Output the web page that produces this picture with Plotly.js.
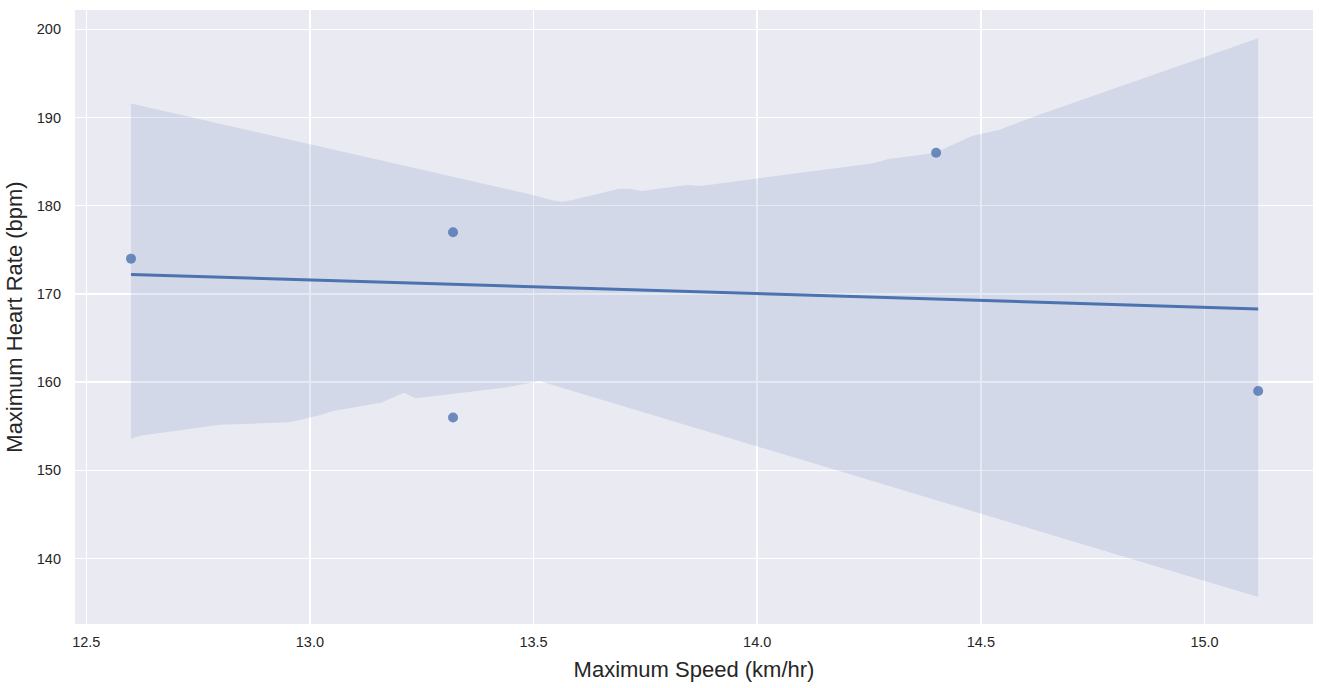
<!DOCTYPE html>
<html>
<head>
<meta charset="utf-8">
<script src="https://cdn.plot.ly/plotly-3.0.1.min.js"></script>
<style>html,body{margin:0;padding:0;background:#fff;}#chart{width:1324px;height:688px;}</style>
</head>
<body>
<div id="chart"></div>
<script>
// Observations
const speedKmh = [12.6, 13.32, 13.32, 14.4, 15.12];
const heartRateBpm = [174, 177, 156, 186, 159];

// Fitted regression line
const fitX = [12.6, 15.12];
const fitY = [172.2, 168.3];

// Confidence band boundaries
const bandUpperX = [12.6, 13.0, 13.5, 13.545, 13.565, 13.587, 13.691, 13.717, 13.743, 13.844, 13.874, 13.996, 14.257, 14.294, 14.397, 14.48, 14.54, 14.629, 15.12];
const bandUpperY = [191.6, 187.0, 181.2, 180.6, 180.45, 180.64, 181.93, 181.9, 181.66, 182.34, 182.23, 183.06, 184.8, 185.29, 185.97, 187.9, 188.58, 190.28, 199.0];
const bandLowerX = [12.6, 12.624, 12.798, 12.955, 13.022, 13.051, 13.159, 13.21, 13.236, 13.289, 13.312, 13.438, 13.498, 13.513, 15.12];
const bandLowerY = [153.57, 153.95, 155.16, 155.46, 156.25, 156.74, 157.65, 158.79, 158.18, 158.52, 158.64, 159.4, 159.96, 160.14, 135.65];

const xTickVals = [12.5, 13.0, 13.5, 14.0, 14.5, 15.0];
const xTickText = ['12.5', '13.0', '13.5', '14.0', '14.5', '15.0'];
const yTickVals = [140, 150, 160, 170, 180, 190, 200];
const yTickText = ['140', '150', '160', '170', '180', '190', '200'];

const blue = '#4c72b0';

const polyX = bandUpperX.concat(bandLowerX.slice().reverse());
const polyY = bandUpperY.concat(bandLowerY.slice().reverse());

const traces = [
  {
    x: polyX, y: polyY, type: 'scatter', mode: 'lines', fill: 'toself',
    fillcolor: 'rgba(76,114,176,0.15)', line: {width: 0, color: 'rgba(0,0,0,0)'},
    hoverinfo: 'skip'
  },
  {
    x: speedKmh, y: heartRateBpm, type: 'scatter', mode: 'markers',
    marker: {color: blue, size: 10, opacity: 0.8, line: {width: 0}},
    hoverinfo: 'x+y'
  },
  {
    x: fitX, y: fitY, type: 'scatter', mode: 'lines',
    line: {color: blue, width: 3}
  }
];

const font = 'Liberation Sans, Arial, sans-serif';
const layout = {
  width: 1324, height: 688,
  margin: {l: 75, r: 11, t: 10, b: 64, pad: 0},
  paper_bgcolor: '#ffffff',
  plot_bgcolor: '#eaeaf2',
  showlegend: false,
  font: {family: font, color: '#262626', size: 14},
  xaxis: {
    range: [12.4748, 15.2426],
    tickmode: 'array', tickvals: xTickVals, ticktext: xTickText,
    showgrid: true, gridcolor: '#ffffff', gridwidth: 1.5,
    zeroline: false, showline: false, ticks: '',
    ticklabelstandoff: 7,
    tickfont: {family: font, size: 14.5, color: '#262626'},
    title: {text: 'Maximum Speed (km/hr)', font: {family: font, size: 22, color: '#262626'}, standoff: 13},
    automargin: false
  },
  yaxis: {
    range: [132.58, 202.19],
    tickmode: 'array', tickvals: yTickVals, ticktext: yTickText,
    showgrid: true, gridcolor: '#ffffff', gridwidth: 1.5,
    zeroline: false, showline: false, ticks: '',
    ticklabelstandoff: 13,
    tickfont: {family: font, size: 14.5, color: '#262626'},
    title: {text: 'Maximum Heart Rate (bpm)', font: {family: font, size: 22, color: '#262626'}, standoff: 8},
    automargin: false
  }
};

Plotly.newPlot('chart', traces, layout, {displayModeBar: false, staticPlot: true});
</script>
</body>
</html>
